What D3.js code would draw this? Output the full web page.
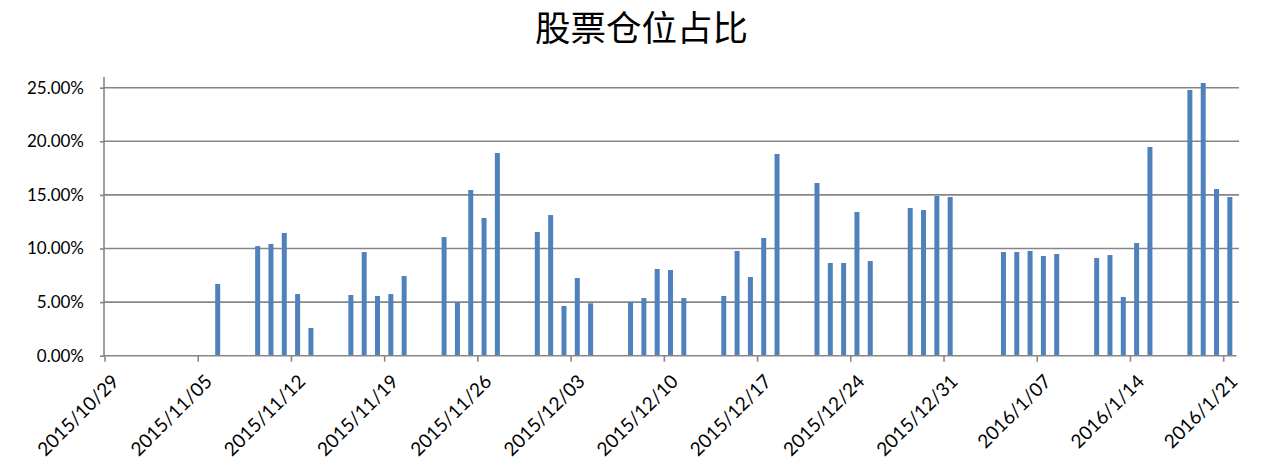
<!DOCTYPE html>
<html><head><meta charset="utf-8">
<script src="https://cdn.jsdelivr.net/npm/d3@7"></script>
<style>body{margin:0;background:#fff}svg{display:block}</style>
</head><body>
<svg id="c" width="1275" height="471"></svg>
<script>
const title = "股票仓位占比";
const dates = [
 "2015-11-06",
 "2015-11-09","2015-11-10","2015-11-11","2015-11-12","2015-11-13",
 "2015-11-16","2015-11-17","2015-11-18","2015-11-19","2015-11-20",
 "2015-11-23","2015-11-24","2015-11-25","2015-11-26","2015-11-27",
 "2015-11-30","2015-12-01","2015-12-02","2015-12-03","2015-12-04",
 "2015-12-07","2015-12-08","2015-12-09","2015-12-10","2015-12-11",
 "2015-12-14","2015-12-15","2015-12-16","2015-12-17","2015-12-18",
 "2015-12-21","2015-12-22","2015-12-23","2015-12-24","2015-12-25",
 "2015-12-28","2015-12-29","2015-12-30","2015-12-31",
 "2016-01-04","2016-01-05","2016-01-06","2016-01-07","2016-01-08",
 "2016-01-11","2016-01-12","2016-01-13","2016-01-14","2016-01-15",
 "2016-01-18","2016-01-19","2016-01-20","2016-01-21"
];
const values = [
 0.0669,
 0.1023,0.1042,0.1145,0.0575,0.0258,
 0.0566,0.0967,0.0557,0.0575,0.0743,
 0.1107,0.0498,0.1546,0.1285,0.1891,
 0.1154,0.1312,0.0464,0.0725,0.0489,
 0.0500,0.0538,0.0809,0.0799,0.0538,
 0.0557,0.0977,0.0734,0.1098,0.1882,
 0.1611,0.0865,0.0865,0.1340,0.0883,
 0.1378,0.1359,0.1490,0.1480,
 0.0967,0.0967,0.0977,0.0930,0.0949,
 0.0911,0.0939,0.0548,0.1051,0.1947,
 0.2479,0.2544,0.1555,0.1480
];
const xTickLabels = ["2015/10/29","2015/11/05","2015/11/12","2015/11/19","2015/11/26","2015/12/03","2015/12/10","2015/12/17","2015/12/24","2015/12/31","2016/1/07","2016/1/14","2016/1/21"];
const yTicks = [0,0.05,0.10,0.15,0.20,0.25];

const svg = d3.select("#c");
const parse = d3.timeParse("%Y-%m-%d");
const parseTick = d3.timeParse("%Y/%m/%d");
const x = d3.scaleTime().domain([parse("2015-10-29"), parse("2016-01-22")]).range([104.5, 1236.5]);
const y = d3.scaleLinear().domain([0, 0.26]).range([355.7, 77]);
const grid = "#868686";
const font = "Lato, 'Liberation Sans', sans-serif";

svg.append("text").attr("x", 641.5).attr("y", 41).attr("text-anchor","middle")
  .attr("font-family","'Noto Sans CJK SC', sans-serif").attr("font-size",35.5).attr("fill","#000").text(title);

// gridlines
svg.append("g").selectAll("line").data(yTicks.slice(1)).join("line")
  .attr("x1",104).attr("x2",1239).attr("y1",d=>y(d)).attr("y2",d=>y(d))
  .attr("stroke",grid).attr("stroke-width",1.6);

// y axis
const yAxis = d3.axisLeft(y).tickValues(yTicks).tickFormat(d3.format(".2%")).tickSize(4).tickPadding(16);
const gy = svg.append("g").attr("transform","translate(104,0)").call(yAxis);
gy.select(".domain").attr("stroke",grid).attr("stroke-width",1.6).attr("d","M0,77V355.7");
gy.selectAll(".tick line").attr("stroke",grid).attr("stroke-width",1.6);
gy.selectAll(".tick text").attr("font-family",font).attr("font-size",17).attr("fill","#000");

// bars
const bw = 5;
svg.append("g").selectAll("rect").data(dates.map((d,i)=>({d:parse(d),v:values[i]}))).join("rect")
  .attr("x", d => (x(d.d)+x(d3.timeDay.offset(d.d,1)))/2 - bw/2)
  .attr("width", bw)
  .attr("y", d => y(d.v))
  .attr("height", d => y(0)-y(d.v))
  .attr("fill","#4F81BD");

// x axis
const xAxis = d3.axisBottom(x).tickValues(xTickLabels.map(s=>parseTick(s))).tickFormat((d,i)=>xTickLabels[i]).tickSize(6).tickSizeOuter(0);
const gx = svg.append("g").attr("transform","translate(0,355.7)").call(xAxis);
gx.select(".domain").attr("stroke",grid).attr("stroke-width",1.6).attr("d","M104,0H1236.5");
gx.selectAll(".tick line").attr("stroke",grid).attr("stroke-width",1.6);
gx.selectAll(".tick text").attr("font-family",font).attr("font-size",19).attr("fill","#000")
  .attr("text-anchor","end").attr("dy",null).attr("y",0)
  .attr("transform","translate(15,27) rotate(-45)");
</script>
</body></html>
